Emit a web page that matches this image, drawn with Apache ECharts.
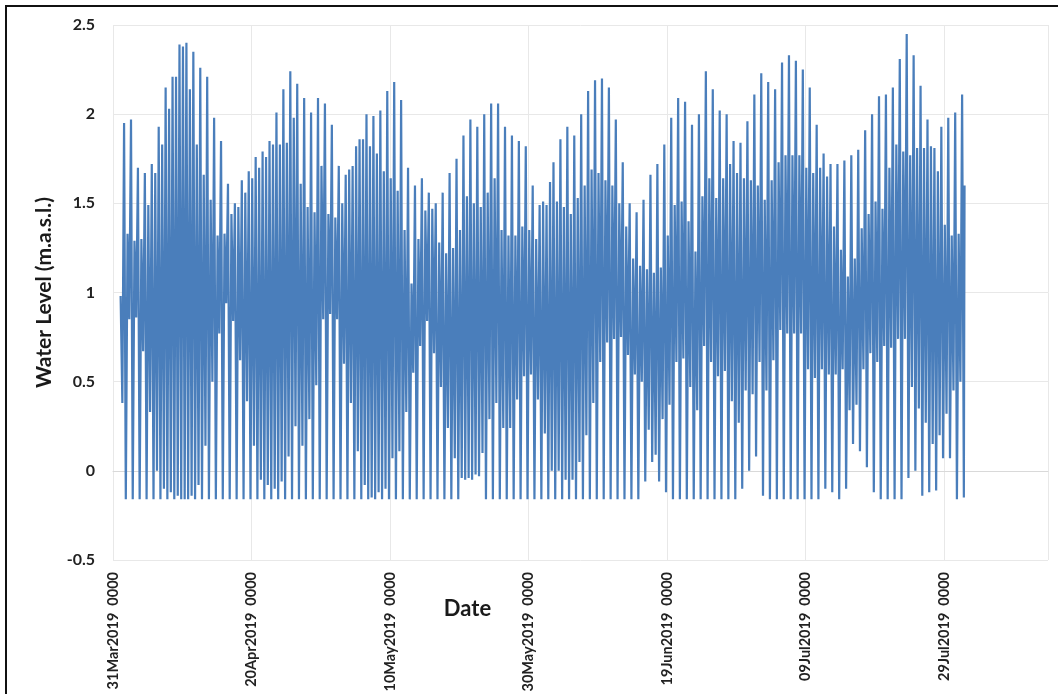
<!DOCTYPE html>
<html>
<head>
<meta charset="utf-8">
<title>Water Level</title>
<script src="https://cdn.jsdelivr.net/npm/echarts@6/dist/echarts.min.js"></script>
<style>
html, body { margin: 0; padding: 0; background: #fff; }
#container { position: absolute; left: 0; top: 0; width: 1058px; height: 694px; }
#frame { position: absolute; left: 5px; top: 5px; width: 1060px; height: 700px; border-top: 2px solid #111; border-left: 2px solid #111; pointer-events: none; }
</style>
</head>
<body>
<div id="container"></div>
<div id="frame"></div>
<script>
// day 0 = 31 Mar 2019 00:00, readings start on day 1
var startDate = Date.UTC(2019, 2, 31)
var firstDay = 1
var months = ['Jan', 'Feb', 'Mar', 'Apr', 'May', 'Jun', 'Jul', 'Aug', 'Sep', 'Oct', 'Nov', 'Dec']

// daily higher high water (m)
var highTide = [1.95, 1.97, 1.70, 1.67, 1.72, 1.93, 2.15, 2.21, 2.39, 2.40,
    2.35, 2.26, 2.21, 1.98, 1.85, 1.61, 1.50, 1.63, 1.68, 1.76,
    1.79, 1.85, 2.01, 2.14, 2.24, 2.17, 2.09, 2.01, 2.09, 2.06,
    1.94, 1.71, 1.66, 1.71, 1.86, 2.00, 1.99, 2.02, 2.13, 2.18,
    2.08, 1.70, 1.60, 1.64, 1.56, 1.50, 1.56, 1.67, 1.75, 1.88,
    1.97, 1.93, 2.00, 2.06, 2.06, 1.93, 1.88, 1.85, 1.82, 1.60,
    1.49, 1.49, 1.73, 1.86, 1.93, 1.88, 2.00, 2.13, 2.19, 2.20,
    2.15, 1.97, 1.73, 1.50, 1.45, 1.52, 1.66, 1.72, 1.83, 1.98,
    2.09, 2.07, 1.94, 2.00, 2.24, 2.14, 2.02, 2.00, 1.85, 1.84,
    1.96, 2.11, 2.23, 2.18, 2.14, 2.29, 2.33, 2.30, 2.25, 2.15,
    1.94, 1.78, 1.72, 1.72, 1.74, 1.77, 1.80, 1.91, 2.00, 2.10,
    2.11, 2.15, 2.31, 2.45, 2.33, 2.16, 1.97, 1.81, 1.93, 1.98,
    2.01, 2.11]

// daily lower high water
var secondHigh = [0.98, 1.33, 1.29, 1.30, 1.49, 1.67, 1.83, 2.03, 2.21, 2.38,
    2.14, 1.83, 1.66, 1.52, 1.32, 1.33, 1.44, 1.48, 1.56, 1.64,
    1.70, 1.76, 1.83, 1.83, 1.84, 1.98, 1.61, 1.48, 1.45, 1.71,
    1.44, 1.42, 1.50, 1.69, 1.82, 1.86, 1.82, 1.78, 1.68, 1.64,
    1.57, 1.35, 1.05, 1.30, 1.46, 1.47, 1.28, 1.22, 1.25, 1.35,
    1.54, 1.50, 1.48, 1.56, 1.64, 1.35, 1.32, 1.32, 1.37, 1.35,
    1.30, 1.51, 1.62, 1.51, 1.48, 1.44, 1.53, 1.60, 1.69, 1.67,
    1.63, 1.60, 1.50, 1.37, 1.19, 1.15, 1.13, 1.11, 1.14, 1.32,
    1.49, 1.51, 1.40, 1.23, 1.54, 1.64, 1.53, 1.64, 1.72, 1.67,
    1.64, 1.63, 1.60, 1.52, 1.63, 1.73, 1.77, 1.77, 1.77, 1.70,
    1.67, 1.70, 1.65, 1.37, 1.24, 1.09, 1.19, 1.36, 1.44, 1.51,
    1.47, 1.70, 1.83, 1.79, 1.77, 1.81, 1.81, 1.82, 1.68, 1.38,
    1.32, 1.33]

// daily higher low water
var higherLow = [0.38, 0.85, 0.86, 0.67, 0.33, 0.00, -0.10, -0.12, -0.14, -0.16,
    -0.14, -0.08, 0.14, 0.50, 0.77, 0.94, 0.84, 0.62, 0.39, 0.14,
    -0.05, -0.08, -0.10, -0.06, 0.08, 0.25, 0.14, 0.29, 0.48, 0.85,
    0.88, 0.85, 0.60, 0.38, 0.11, -0.08, -0.15, -0.12, -0.10, 0.07,
    0.11, 0.33, 0.55, 0.70, 0.84, 0.66, 0.47, 0.24, 0.07, -0.04,
    -0.04, -0.02, 0.10, 0.29, 0.38, 0.24, 0.24, 0.40, 0.53, 0.54,
    0.40, 0.21, 0.00, 0.00, -0.05, -0.05, 0.05, 0.20, 0.38, 0.61,
    0.72, 0.74, 0.75, 0.65, 0.54, 0.50, 0.23, 0.09, 0.29, 0.37,
    0.61, 0.63, 0.47, 0.34, 0.70, 0.61, 0.53, 0.56, 0.39, 0.27,
    0.45, 0.43, 0.61, 0.45, 0.62, 0.79, 0.77, 0.77, 0.77, 0.57,
    0.52, 0.57, 0.54, 0.54, 0.57, 0.34, 0.37, 0.57, 0.66, 0.61,
    0.70, 0.69, 0.74, 0.74, 0.47, 0.35, 0.27, 0.15, 0.20, 0.32,
    0.45, 0.50]

// daily lower low water (sensor bottoms out near -0.16)
var lowerLow = [-0.16, -0.16, -0.16, -0.16, -0.16, -0.16, -0.16, -0.16, -0.16, -0.16,
    -0.16, -0.16, -0.16, -0.16, -0.16, -0.16, -0.16, -0.16, -0.16, -0.16,
    -0.16, -0.16, -0.16, -0.16, -0.16, -0.16, -0.16, -0.16, -0.16, -0.16,
    -0.16, -0.16, -0.16, -0.16, -0.16, -0.16, -0.16, -0.16, -0.16, -0.16,
    -0.16, -0.16, -0.16, -0.16, -0.16, -0.16, -0.16, -0.16, -0.16, -0.05,
    -0.05, -0.03, -0.16, -0.16, -0.16, -0.16, -0.16, -0.16, -0.16, -0.16,
    -0.16, -0.16, -0.16, -0.16, -0.16, -0.16, -0.16, -0.16, -0.16, -0.16,
    -0.16, -0.16, -0.16, -0.16, -0.16, -0.06, 0.05, -0.06, -0.12, -0.16,
    -0.16, -0.16, -0.16, -0.16, -0.16, -0.16, -0.16, -0.16, -0.16, -0.10,
    0.00, 0.08, -0.14, -0.16, -0.16, -0.16, -0.16, -0.16, -0.16, -0.16,
    -0.16, -0.10, -0.12, -0.16, -0.10, 0.15, 0.11, 0.02, -0.12, -0.16,
    -0.16, -0.16, -0.16, -0.04, 0.00, -0.14, -0.12, -0.11, 0.07, 0.07,
    -0.16, -0.15]

var lastLevel = 1.60

var xTicks = [0, 20, 40, 60, 80, 100, 120]

function dayLabel(v) {
    if (xTicks.indexOf(v) < 0) return ''
    var t = new Date(startDate + v * 86400000)
    var dd = ('0' + t.getUTCDate()).slice(-2)
    return dd + months[t.getUTCMonth()] + t.getUTCFullYear() + '  0000'
}

// four readings per day: lower high, higher low, higher high, lower low
var points = []
for (var i = 0; i < highTide.length; i++) {
    var d = firstDay + i
    points.push([d + 0.1, secondHigh[i]])
    points.push([d + 0.35, higherLow[i]])
    points.push([d + 0.6, highTide[i]])
    points.push([d + 0.85, lowerLow[i]])
}
points.push([firstDay + highTide.length - 1 + 0.95, lastLevel])

var myChart = echarts.init(document.getElementById('container'), null, { renderer: 'canvas' })

var option = {
    animation: false,
    backgroundColor: '#ffffff',
    textStyle: { fontFamily: 'Lato' },
    grid: { left: 113, right: 10, top: 25, bottom: 134, outerBoundsMode: 'none', containLabel: false },
    xAxis: {
        type: 'value',
        min: 0,
        max: 135,
        interval: 20,
        name: 'Date',
        nameLocation: 'middle',
        nameGap: 38,
        nameMoveOverlap: false,
        nameTextStyle: { fontFamily: 'Lato', fontWeight: 'bold', fontSize: 22, color: '#1a1a1a', padding: [0, 226, 0, 0] },
        axisLine: { lineStyle: { color: '#d9d9d9', width: 1 } },
        axisTick: { show: false },
        splitLine: { show: true, lineStyle: { color: '#e8e8e8', width: 1 } },
        axisLabel: {
            rotate: 90,
            margin: 12,
            fontFamily: 'Lato',
            fontWeight: 'bold',
            fontSize: 14.5,
            color: '#222',
            formatter: dayLabel
        }
    },
    yAxis: {
        type: 'value',
        min: -0.5,
        max: 2.5,
        interval: 0.5,
        name: 'Water Level (m.a.s.l.)',
        nameLocation: 'middle',
        nameGap: 58,
        nameMoveOverlap: false,
        nameTextStyle: { fontFamily: 'Lato', fontWeight: 'bold', fontSize: 21, color: '#1a1a1a' },
        axisLine: { show: false },
        axisTick: { show: false },
        splitLine: { lineStyle: { color: '#e8e8e8', width: 1 } },
        axisLabel: {
            margin: 18,
            fontFamily: 'Lato',
            fontWeight: 'bold',
            fontSize: 16,
            color: '#222'
        }
    },
    series: [{
        name: 'Water Level',
        type: 'line',
        data: points,
        showSymbol: false,
        sampling: null,
        lineStyle: { color: '#4a7ebb', width: 2.2 },
        itemStyle: { color: '#4a7ebb' }
    }]
}

myChart.setOption(option)
</script>
</body>
</html>
